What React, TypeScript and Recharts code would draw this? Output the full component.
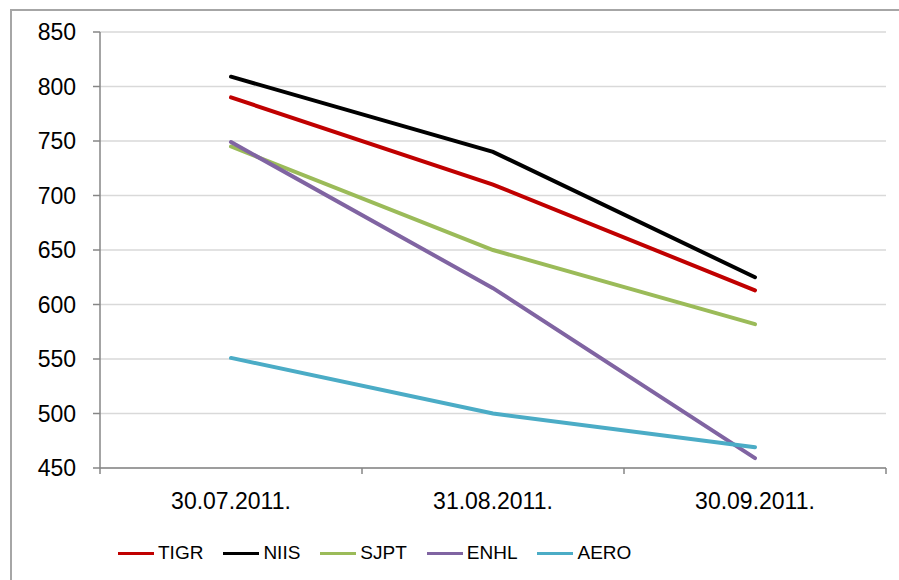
import React from "react";
import { LineChart, Line, XAxis, YAxis, CartesianGrid, Legend } from "recharts";

const categories = ["30.07.2011.", "31.08.2011.", "30.09.2011."];
const tigr = [790, 710, 613];
const niis = [809, 740, 625];
const sjpt = [745, 650, 582];
const enhl = [749, 615, 459];
const aero = [551, 500, 469];
const yTicks = [450, 500, 550, 600, 650, 700, 750, 800, 850];
// ticks at category borders (integers) and labels at category centers (.5)
const xTicks = [0, 0.5, 1, 1.5, 2, 2.5, 3];

const series = [
  { key: "TIGR", values: tigr, color: "#c00000" },
  { key: "NIIS", values: niis, color: "#000000" },
  { key: "SJPT", values: sjpt, color: "#9bbb59" },
  { key: "ENHL", values: enhl, color: "#8064a2" },
  { key: "AERO", values: aero, color: "#4bacc6" },
];

const chartData = categories.map((c, i) => {
  const row: Record<string, number | string> = { x: i + 0.5, date: c };
  series.forEach((s) => {
    row[s.key] = s.values[i];
  });
  return row;
});

const FONT = "'Liberation Sans', Arial, sans-serif";

function XTick(props: any) {
  const { x, y, payload } = props;
  const v = payload.value as number;
  if (Number.isInteger(v)) {
    return <line x1={x} y1={y} x2={x} y2={y + 6} stroke="#868686" strokeWidth={1.5} />;
  }
  return (
    <text x={x} y={y + 25} dy="0.71em" textAnchor="middle" fill="#000" fontSize={23} fontFamily={FONT}>
      {categories[Math.floor(v)]}
    </text>
  );
}

function LegendBox() {
  return (
    <div style={{ display: "flex", alignItems: "center", fontFamily: FONT, fontSize: 19, color: "#000", lineHeight: "22px" }}>
      {series.map((s) => (
        <div key={s.key} style={{ display: "flex", alignItems: "center", marginRight: 20 }}>
          <div style={{ width: 36, height: 3, background: s.color, marginRight: 4 }} />
          <span>{s.key}</span>
        </div>
      ))}
    </div>
  );
}

export default function App() {
  return (
    <div style={{ position: "fixed", left: 0, top: 0, width: 899, height: 580, overflow: "hidden", background: "#fff" }}>
      <div
        style={{
          position: "absolute",
          left: 10,
          top: 9,
          width: 1000,
          height: 700,
          border: "2px solid #a6a6a6",
          boxSizing: "border-box",
        }}
      />
      <div style={{ position: "absolute", left: 0, top: 0 }}>
        <LineChart width={899} height={580} data={chartData} margin={{ top: 32, right: 13, left: 0, bottom: 52 }}>
          <CartesianGrid horizontal vertical={false} stroke="#d9d9d9" strokeWidth={1.5} />
          <XAxis
            dataKey="x"
            type="number"
            domain={[0, 3]}
            ticks={xTicks}
            interval={0}
            height={60}
            tickSize={0}
            tickMargin={0}
            tickLine={false}
            axisLine={{ stroke: "#868686", strokeWidth: 1.5 }}
            tick={<XTick />}
          />
          <YAxis
            domain={[450, 850]}
            ticks={yTicks}
            interval={0}
            width={100}
            tickSize={7}
            tickMargin={17}
            axisLine={{ stroke: "#868686", strokeWidth: 1.5 }}
            tickLine={{ stroke: "#868686", strokeWidth: 1.5 }}
            tick={{ fill: "#000", fontSize: 23, fontFamily: FONT }}
          />
          <Legend
            layout="horizontal"
            verticalAlign="middle"
            align="center"
            content={<LegendBox />}
            wrapperStyle={{ top: 542, left: 118, width: "auto" }}
          />
          {series.map((s) => (
            <Line
              key={s.key}
              type="linear"
              dataKey={s.key}
              stroke={s.color}
              strokeWidth={4}
              strokeLinecap="round"
              dot={false}
              activeDot={false}
              isAnimationActive={false}
            />
          ))}
        </LineChart>
      </div>
    </div>
  );
}
